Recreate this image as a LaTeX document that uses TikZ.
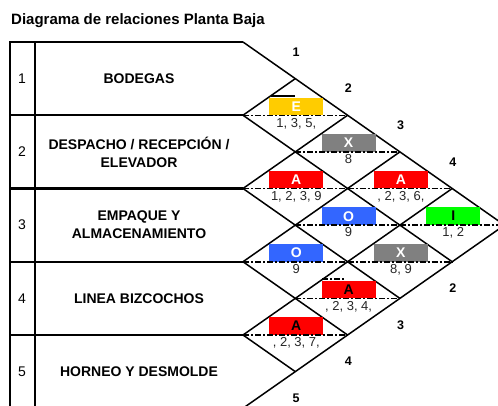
\documentclass[tikz,border=0pt]{standalone}
\usepackage{fontspec}
\setmainfont{Liberation Sans}
\definecolor{cE}{HTML}{FFCC00}
\definecolor{cX}{HTML}{808080}
\definecolor{cA}{HTML}{FF0000}
\definecolor{cO}{HTML}{3366FF}
\definecolor{cI}{HTML}{00FF00}
\begin{document}
\begin{tikzpicture}[x=1pt,y=-1pt,
  tline/.style={line width=2.2pt},
  gline/.style={line width=1.5pt},
  dline/.style={line width=1.5pt, dash pattern=on 6pt off 2pt on 2pt off 2pt},
  cellbox/.style={minimum width=54pt, minimum height=17.5pt, inner sep=0pt, anchor=south, font=\fontsize{14}{14}\selectfont\bfseries},
  numtxt/.style={font=\fontsize{13}{13}\selectfont, text=black!85, anchor=north, inner sep=0pt},
  rowtxt/.style={font=\fontsize{14}{18}\selectfont\bfseries, align=center},
  idx/.style={font=\fontsize{14}{14}\selectfont},
  outlbl/.style={font=\fontsize{12.5}{12.5}\selectfont\bfseries}]
\useasboundingbox (0,0) rectangle (498,405);
\clip (0,0) rectangle (498,405);
\fill[white] (0,0) rectangle (498,405);
\foreach \k in {0,...,5}{\foreach \m in {0,...,10}{\coordinate (p\k-\m) at ({243+52.3*\k},{42+36.625*\m});}}
\foreach \m in {0,2,4,6,8}{\coordinate (lft\m) at (10,{42+36.625*\m});}
\coordinate (bl) at (10,410);
\coordinate (tc) at (35,42);
\coordinate (bc) at (35,410);
% title
\node[anchor=base west, inner sep=0pt, font=\fontsize{15}{15}\selectfont\bfseries] (title) at (11,24) {Diagrama de relaciones Planta Baja};
% table
\draw[tline] (bl) -- (lft0) -- (p0-0);
\draw[tline] (tc) -- (bc);
\foreach \m in {2,4,6,8}{\draw[tline] (lft\m) -- (p0-\m);}
% matrix grid
\draw[gline] (p0-0) -- (p5-5) -- (p0-10);
\draw[gline] (p1-1) -- (p0-2) -- (p4-6);
\draw[gline] (p2-2) -- (p0-4) -- (p3-7);
\draw[gline] (p3-3) -- (p0-6) -- (p2-8);
\draw[gline] (p4-4) -- (p0-8) -- (p1-9);
% row texts
\node[idx] (i1) at (22,78.6) {1};
\node[idx] (i2) at (22,151.9) {2};
\node[idx] (i3) at (22,225.1) {3};
\node[idx] (i4) at (22,298.4) {4};
\node[idx] (i5) at (22,371.6) {5};
\node[rowtxt] (r1) at (139,78.6) {BODEGAS};
\node[rowtxt] (r2) at (139,151.9) {DESPACHO / RECEPCIÓN /\\ELEVADOR};
\node[rowtxt] (r3) at (139,225.1) {EMPAQUE Y\\ALMACENAMIENTO};
\node[rowtxt] (r4) at (139,298.4) {LINEA BIZCOCHOS};
\node[rowtxt] (r5) at (139,371.6) {HORNEO Y DESMOLDE};
% outer labels
\foreach \j in {1,...,4}{\node[outlbl] (t\j) at ({296+52.3*(\j-1)},{52+36.6*(\j-1)}) {\j};}
\foreach \j in {2,...,5}{\node[outlbl] (b\j) at ({296+52.3*(5-\j)},{398-36.6*(5-\j)}) {\j};}
% cells
\node[cellbox, fill=cE, text=white] (c12) at ([xshift=1pt]p1-2) {E};
\node[cellbox, fill=cX, text=white] (c13) at ([xshift=1pt]p2-3) {X};
\node[cellbox, fill=cA, text=white] (c23) at ([xshift=1pt]p1-4) {A};
\node[cellbox, fill=cA, text=white] (c14) at ([xshift=1pt]p3-4) {A};
\node[cellbox, fill=cO, text=white] (c24) at ([xshift=1pt]p2-5) {O};
\node[cellbox, fill=cI, text=black] (c15) at ([xshift=1pt]p4-5) {I};
\node[cellbox, fill=cO, text=white] (c34) at ([xshift=1pt]p1-6) {O};
\node[cellbox, fill=cX, text=white] (c25) at ([xshift=1pt]p3-6) {X};
\node[cellbox, fill=cA, text=black] (c35) at ([xshift=1pt]p2-7) {A};
\node[cellbox, fill=cA, text=black] (c45) at ([xshift=1pt]p1-8) {A};
% dashed diagonals
\draw[dline] (p0-2) -- (p2-2);
\draw[dline] (p1-3) -- (p3-3);
\draw[dline] (p0-4) -- (p2-4);
\draw[dline] (p2-4) -- (p4-4);
\draw[dline] (p1-5) -- (p3-5);
\draw[dline] (p3-5) -- (p5-5);
\draw[dline] (p0-6) -- (p2-6);
\draw[dline] (p2-6) -- (p4-6);
\draw[dline] (p1-7) -- (p3-7);
\draw[dline] (p0-8) -- (p2-8);
% small marks above boxes
\draw[line width=1.5pt] ([xshift=2pt,yshift=1.5pt]c12.north west) -- ++(24,0);
\draw[dline] ([xshift=1pt,yshift=1.5pt]c35.north west) -- ++(23,0);
% numbers
\node[numtxt] (n12) at ([xshift=1pt,yshift=-2.5pt]p1-2) {1, 3, 5,};
\node[numtxt] (n13) at ([xshift=1pt,yshift=-2.5pt]p2-3) {8};
\node[numtxt] (n23) at ([xshift=1pt,yshift=-2.5pt]p1-4) {1, 2, 3, 9};
\node[numtxt] (n14) at ([xshift=1pt,yshift=-2.5pt]p3-4) {, 2, 3, 6,};
\node[numtxt] (n24) at ([xshift=1pt,yshift=-2.5pt]p2-5) {9};
\node[numtxt] (n15) at ([xshift=1pt,yshift=-2.5pt]p4-5) {1, 2};
\node[numtxt] (n34) at ([xshift=1pt,yshift=-2.5pt]p1-6) {9};
\node[numtxt] (n25) at ([xshift=1pt,yshift=-2.5pt]p3-6) {8, 9};
\node[numtxt] (n35) at ([xshift=1pt,yshift=-2.5pt]p2-7) {, 2, 3, 4,};
\node[numtxt] (n45) at ([xshift=1pt,yshift=-2.5pt]p1-8) {, 2, 3, 7,};
\end{tikzpicture}
\end{document}
